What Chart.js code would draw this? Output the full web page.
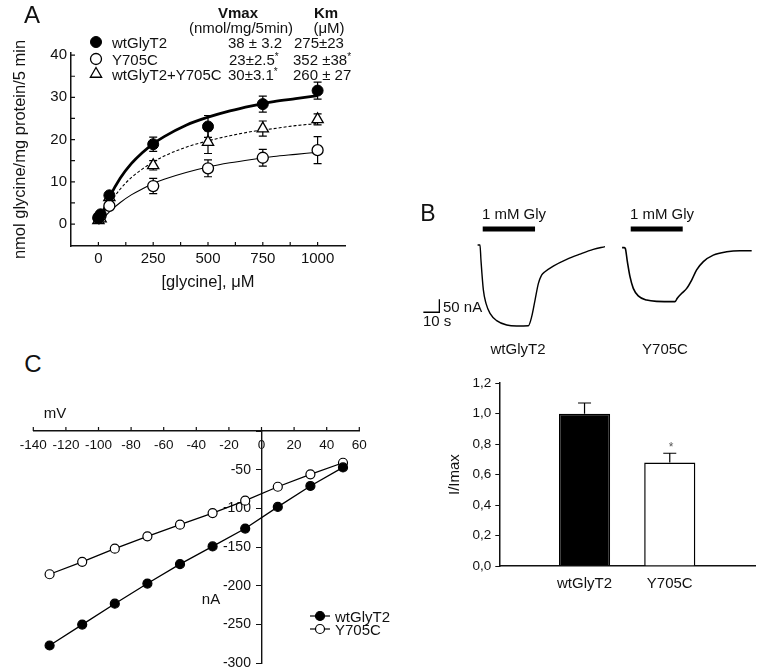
<!DOCTYPE html>
<html>
<head>
<meta charset="utf-8">
<script src="https://cdn.jsdelivr.net/npm/chart.js@4.4.0/dist/chart.umd.min.js"></script>
<style>
  body { margin: 0; background: #fff; }
  #fig { position: relative; width: 778px; height: 668px; overflow: hidden; font-family: "Liberation Sans", Arial, sans-serif; color: #111; }
  canvas { position: absolute; }
  .t { position: absolute; white-space: nowrap; transform: translate(-50%, -50%); font-size: 15px; line-height: 1; }
  .t.l { transform: translate(0, -50%); }
  .s { font-size: 10px; position: relative; top: -5px; }
</style>
</head>
<body>
<div id="fig">
  <canvas id="chartA" width="390" height="300" style="left:0px;top:0px"></canvas>
  <canvas id="chartB1" width="378" height="140" style="left:400px;top:200px"></canvas>
  <canvas id="chartB2" width="358" height="260" style="left:420px;top:370px"></canvas>
  <canvas id="chartC" width="390" height="300" style="left:0px;top:380px"></canvas>

  <!-- panel A text -->
  <div class="t" style="left:32px;top:15px;font-size:24px">A</div>
  <div class="t" style="left:238px;top:12px;font-weight:bold">Vmax</div>
  <div class="t" style="left:241px;top:27px">(nmol/mg/5min)</div>
  <div class="t" style="left:326px;top:12px;font-weight:bold">Km</div>
  <div class="t" style="left:329px;top:27px">(μM)</div>
  <div class="t l" style="left:112px;top:42px">wtGlyT2</div>
  <div class="t l" style="left:112px;top:59px">Y705C</div>
  <div class="t l" style="left:112px;top:74px">wtGlyT2+Y705C</div>
  <div class="t l" style="left:228px;top:42px">38 ± 3.2</div>
  <div class="t l" style="left:229px;top:59px">23±2.5<span class="s">*</span></div>
  <div class="t l" style="left:228px;top:74px">30±3.1<span class="s">*</span></div>
  <div class="t l" style="left:294px;top:42px">275±23</div>
  <div class="t l" style="left:293px;top:59px">352 ±38<span class="s">*</span></div>
  <div class="t l" style="left:293px;top:74px">260 ± 27</div>

  <!-- panel B text -->
  <div class="t" style="left:428px;top:213px;font-size:23px">B</div>
  <div class="t" style="left:514px;top:213px">1 mM Gly</div>
  <div class="t" style="left:662px;top:213px">1 mM Gly</div>
  <div class="t l" style="left:443px;top:306px">50 nA</div>
  <div class="t l" style="left:423px;top:320px">10 s</div>
  <div class="t" style="left:518px;top:348px">wtGlyT2</div>
  <div class="t" style="left:665px;top:348px">Y705C</div>
  <div class="t" style="left:671px;top:447px;font-size:12px;color:#555">*</div>

  <!-- panel C text -->
  <div class="t" style="left:33px;top:364px;font-size:24px">C</div>
  <div class="t" style="left:55px;top:412px">mV</div>
  <div class="t" style="left:211px;top:598px">nA</div>
  <div class="t l" style="left:335px;top:616px">wtGlyT2</div>
  <div class="t l" style="left:335px;top:629px">Y705C</div>
</div>

<script>
// ---- panel A: uptake kinetics ----
const glyConc = [0, 10, 50, 250, 500, 750, 1000];
const wtUptake = [1.4, 2.3, 6.8, 18.9, 23.1, 28.4, 31.6];
const wtErr = [0.4, 0.4, 0.7, 1.7, 2.6, 1.9, 2.0];
const mutUptake = [1.5, 2.0, 4.3, 9.0, 13.2, 15.7, 17.5];
const mutErr = [0.3, 0.3, 0.5, 1.8, 2.0, 2.0, 3.2];
const coUptake = [0.9, 1.3, 6.3, 13.9, 19.4, 22.6, 24.8];
const coErr = [0.3, 0.3, 0.6, 1.1, 2.7, 1.8, 1.3];

// fitted curves
const fitConc = [0, 25, 50, 100, 150, 200, 250, 300, 400, 500, 600, 700, 800, 900, 1000];
const wtFit = [0, 3.4, 6.3, 10.9, 14.3, 16.9, 19.0, 20.7, 23.4, 25.3, 26.8, 28.0, 29.0, 29.7, 30.4];
const mutFit = [0, 1.5, 2.9, 5.1, 6.9, 8.3, 9.6, 10.6, 12.2, 13.5, 14.5, 15.3, 16.0, 16.5, 17.0];
const coFit = [0, 2.6, 4.8, 8.3, 11.0, 13.0, 14.7, 16.1, 18.2, 19.7, 20.9, 21.9, 22.6, 23.3, 23.8];

const aXTicks = [0, 250, 500, 750, 1000];
const aXMinor = [125, 375, 625, 875];
const aYTicks = [0, 10, 20, 30, 40];
const aYMinor = [5, 15, 25, 35];

// ---- panel B: current traces (s, nA) ----
const wtTime = [-1.5, 0, 0.6, 2.1, 3.75, 6.25, 10.4, 16.7, 22.9, 30.2, 32.3, 34.4, 36.5, 38.5, 40.6, 45.8, 54.2, 62.5, 70.8, 78.1];
const wtTrace = [0, 0, -58, -173, -225, -263, -291, -308, -312, -311, -276, -212, -148, -116, -103, -81, -55, -35, -17, -6];
const mutTime = [-1.2, 0, 0.8, 2.1, 3.75, 5.8, 8.9, 14.2, 20.4, 31.9, 33.3, 36.1, 39.2, 42.3, 45.4, 49.6, 55.8, 64.2, 72.5, 79.8];
const mutTrace = [-10, -10, -13, -64, -122, -167, -196, -212, -217, -218, -205, -186, -167, -135, -96, -64, -39, -26, -22, -22];
const wtPulse = [1.7, 34.4];
const mutPulse = [4.2, 36.7];
const pulseLevel = 62;
const scaleBar = { time: 10, current: 50 };

// ---- panel B: normalized current ----
const barLabels = ['', 'wtGlyT2', 'Y705C', ''];
const barValues = [null, 1.0, 0.68, null];
const barErrors = [null, 0.07, 0.06, null];
const barYTicks = [0, 0.2, 0.4, 0.6, 0.8, 1.0, 1.2];

// ---- panel C: I-V ----
const voltages = [-130, -110, -90, -70, -50, -30, -10, 10, 30, 50];
const wtCurrent = [-277, -250, -223, -197, -172, -149, -126, -98, -71, -47];
const mutCurrent = [-185, -169, -152, -136, -121, -106, -90, -72, -56, -41];
const cXTicks = [-140, -120, -100, -80, -60, -40, -20, 0, 20, 40, 60];
const cYTicks = [-300, -250, -200, -150, -100, -50, 0];

Chart.defaults.font.family = '"Liberation Sans", Arial, sans-serif';
Chart.defaults.color = '#111';
Chart.defaults.animation = false;
Chart.defaults.plugins.legend.display = false;
Chart.defaults.plugins.tooltip.enabled = false;

const pts = (xs, ys) => xs.map((x, i) => ({ x: x, y: ys[i] }));
const setTicks = (vals) => (s) => { s.ticks = vals.map(v => ({ value: v })); };

// vertical error bars, drawn under the markers
const errorBars = {
  id: 'errorBars',
  beforeDatasetsDraw(chart) {
    const ctx = chart.ctx;
    chart.data.datasets.forEach((ds, i) => {
      if (!ds.errors) return;
      const meta = chart.getDatasetMeta(i);
      const ys = chart.scales[meta.yAxisID];
      ctx.save();
      ctx.strokeStyle = '#000';
      ctx.lineWidth = 1.2;
      meta.data.forEach((el, j) => {
        const err = ds.errors[j];
        if (err == null) return;
        const d = ds.data[j];
        const v = typeof d === 'object' ? d.y : d;
        const top = ys.getPixelForValue(v + err);
        const bot = ds.errorsUp ? el.y : ys.getPixelForValue(v - err);
        const c = ds.capWidth / 2;
        ctx.beginPath();
        ctx.moveTo(el.x, top); ctx.lineTo(el.x, bot);
        ctx.moveTo(el.x - c, top); ctx.lineTo(el.x + c, top);
        if (!ds.errorsUp) { ctx.moveTo(el.x - c, bot); ctx.lineTo(el.x + c, bot); }
        ctx.stroke();
      });
      ctx.restore();
    });
  }
};

// small tick marks drawn from an axis line
function tickMarks(marks) {
  return {
    id: 'tickMarks',
    beforeDatasetsDraw(chart) {
      const ctx = chart.ctx;
      ctx.save();
      ctx.strokeStyle = '#111';
      ctx.lineWidth = 1.2;
      ctx.beginPath();
      marks.forEach(m => {
        const s = chart.scales[m.scale];
        m.values.forEach(v => {
          const p = s.getPixelForValue(v);
          if (s.isHorizontal()) {
            const b = m.cross ? chart.scales[m.cross].getPixelForValue(m.at) : s.top;
            ctx.moveTo(p, b); ctx.lineTo(p, b + m.dir * m.len);
          } else {
            const b = s.right;
            ctx.moveTo(b, p); ctx.lineTo(b + m.dir * m.len, p);
          }
        });
      });
      ctx.stroke();
      ctx.restore();
    }
  };
}

// legend symbols placed beside the html legend text
function legendMarks(items) {
  return {
    id: 'legendMarks',
    afterDraw(chart) {
      const ctx = chart.ctx;
      items.forEach(it => {
        ctx.save();
        ctx.strokeStyle = '#000';
        ctx.fillStyle = it.fill;
        ctx.lineWidth = it.bw;
        if (it.line) {
          ctx.beginPath();
          ctx.moveTo(it.x - it.line, it.y); ctx.lineTo(it.x + it.line, it.y);
          ctx.stroke();
        }
        Chart.helpers.drawPoint(ctx, { pointStyle: it.style, radius: it.r, rotation: 0, borderWidth: it.bw }, it.x, it.y);
        ctx.restore();
      });
    }
  };
}

// ---------- A ----------
new Chart(document.getElementById('chartA'), {
  type: 'scatter',
  data: {
    datasets: [
      { data: pts(glyConc, wtUptake), errors: wtErr, capWidth: 8, pointStyle: 'circle', pointRadius: 5.5,
        backgroundColor: '#000', borderColor: '#000', borderWidth: 1, order: 0 },
      { data: pts(glyConc, mutUptake), errors: mutErr, capWidth: 8, pointStyle: 'circle', pointRadius: 5.5,
        backgroundColor: '#fff', borderColor: '#000', borderWidth: 1.3, order: 0 },
      { data: pts(glyConc, coUptake), errors: coErr, capWidth: 8, pointStyle: 'triangle', pointRadius: 6.5,
        backgroundColor: '#fff', borderColor: '#000', borderWidth: 1.3, order: 0 },
      { type: 'line', data: pts(fitConc, wtFit), borderColor: '#000', borderWidth: 2.8,
        pointRadius: 0, cubicInterpolationMode: 'monotone', order: 1 },
      { type: 'line', data: pts(fitConc, mutFit), borderColor: '#000', borderWidth: 1.1,
        pointRadius: 0, cubicInterpolationMode: 'monotone', order: 1 },
      { type: 'line', data: pts(fitConc, coFit), borderColor: '#000', borderWidth: 1.1, borderDash: [3, 2],
        pointRadius: 0, cubicInterpolationMode: 'monotone', order: 1 }
    ]
  },
  options: {
    responsive: false,
    layout: { padding: { left: 0, top: 53, right: 45, bottom: 0 } },
    scales: {
      x: {
        type: 'linear', min: -125, max: 1125,
        afterBuildTicks: setTicks(aXTicks),
        afterFit: (s) => { s.height = 54; },
        grid: { drawOnChartArea: false, drawTicks: false },
        border: { color: '#111', width: 1.5 },
        ticks: { font: { size: 15 }, padding: 4, maxRotation: 0, autoSkip: false, callback: (v) => String(v) },
        title: { display: true, text: '[glycine], μM', font: { size: 16.5 }, padding: { top: 0, bottom: 8 } }
      },
      y: {
        min: -5.2, max: 40.5,
        afterBuildTicks: setTicks(aYTicks),
        afterFit: (s) => { s.width = 71; },
        grid: { drawOnChartArea: false, drawTicks: false },
        border: { color: '#111', width: 1.5 },
        ticks: { font: { size: 15 }, padding: 4, callback: (v) => String(v) },
        title: { display: true, text: 'nmol glycine/mg protein/5 min', font: { size: 16.5 }, padding: { top: 11, bottom: 0 } }
      }
    }
  },
  plugins: [
    errorBars,
    tickMarks([
      { scale: 'x', values: aXTicks.concat(aXMinor), len: 4, dir: -1 },
      { scale: 'y', values: aYTicks.concat(aYMinor), len: 4, dir: 1 }
    ]),
    legendMarks([
      { x: 96, y: 42, style: 'circle', r: 5.5, fill: '#000', bw: 1 },
      { x: 96, y: 59, style: 'circle', r: 5.5, fill: '#fff', bw: 1.3 },
      { x: 96, y: 74, style: 'triangle', r: 6.5, fill: '#fff', bw: 1.3 }
    ])
  ]
});

// ---------- B: traces ----------
const scaleBarPlugin = {
  id: 'scaleBar',
  afterDatasetsDraw(chart) {
    const xs = chart.scales.x1, ys = chart.scales.y, ctx = chart.ctx;
    const t0 = -35.4, i0 = -259;
    ctx.save();
    ctx.strokeStyle = '#000';
    ctx.lineWidth = 1.3;
    ctx.beginPath();
    ctx.moveTo(xs.getPixelForValue(t0), ys.getPixelForValue(i0));
    ctx.lineTo(xs.getPixelForValue(t0 + scaleBar.time), ys.getPixelForValue(i0));
    ctx.lineTo(xs.getPixelForValue(t0 + scaleBar.time), ys.getPixelForValue(i0 + scaleBar.current));
    ctx.stroke();
    ctx.restore();
  }
};

new Chart(document.getElementById('chartB1'), {
  type: 'line',
  data: {
    datasets: [
      { data: pts(wtTime, wtTrace), xAxisID: 'x1', borderColor: '#000', borderWidth: 1.4, pointRadius: 0, cubicInterpolationMode: 'monotone' },
      { data: pts(mutTime, mutTrace), xAxisID: 'x2', borderColor: '#000', borderWidth: 1.6, pointRadius: 0, cubicInterpolationMode: 'monotone' },
      { data: wtPulse.map(t => ({ x: t, y: pulseLevel })), xAxisID: 'x1', borderColor: '#000', borderWidth: 5, pointRadius: 0, borderCapStyle: 'butt' },
      { data: mutPulse.map(t => ({ x: t, y: pulseLevel })), xAxisID: 'x2', borderColor: '#000', borderWidth: 5, pointRadius: 0, borderCapStyle: 'butt' }
    ]
  },
  options: {
    responsive: false,
    layout: { padding: 0 },
    scales: {
      x1: { type: 'linear', display: false, min: -50, max: 186.25 },
      x2: { type: 'linear', display: false, min: -140, max: 96.25 },
      y: { display: false, min: -365.75, max: 173.25 }
    }
  },
  plugins: [scaleBarPlugin]
});

// ---------- B: bars ----------
new Chart(document.getElementById('chartB2'), {
  type: 'bar',
  data: {
    labels: barLabels,
    datasets: [{
      data: barValues, errors: barErrors, errorsUp: true, capWidth: 13,
      backgroundColor: ['#000', '#000', '#fff', '#000'], borderColor: '#000', borderWidth: 1.5,
      barPercentage: 0.75, categoryPercentage: 0.8
    }]
  },
  options: {
    responsive: false,
    layout: { padding: { left: 20, top: 13.2, right: 23, bottom: 34 } },
    scales: {
      x: {
        offset: false,
        afterFit: (s) => { s.height = 30; },
        grid: { drawOnChartArea: false, drawTicks: false },
        border: { color: '#111', width: 1.5 },
        ticks: { font: { size: 15 }, padding: 9, maxRotation: 0, autoSkip: false }
      },
      y: {
        min: 0, max: 1.2,
        afterBuildTicks: setTicks(barYTicks),
        afterFit: (s) => { s.width = 59.3; },
        grid: { drawOnChartArea: false, drawTicks: true, tickLength: 4, color: '#111' },
        border: { color: '#111', width: 1.5 },
        ticks: { font: { size: 13.5 }, padding: 4, callback: (v) => v.toFixed(1).replace('.', ',') },
        title: { display: true, text: 'I/Imax', font: { size: 15 }, padding: { top: 6, bottom: 0 } }
      }
    }
  },
  plugins: [errorBars]
});

// ---------- C ----------
new Chart(document.getElementById('chartC'), {
  type: 'line',
  data: {
    datasets: [
      { data: pts(voltages, wtCurrent), borderColor: '#000', borderWidth: 1.3, pointRadius: 4.5,
        pointBackgroundColor: '#000', pointBorderColor: '#000', pointBorderWidth: 1.2 },
      { data: pts(voltages, mutCurrent), borderColor: '#000', borderWidth: 1.3, pointRadius: 4.5,
        pointBackgroundColor: '#fff', pointBorderColor: '#000', pointBorderWidth: 1.2 }
    ]
  },
  options: {
    responsive: false,
    layout: { padding: { left: 33.3, right: 30.7, top: 51, bottom: 16.7 } },
    scales: {
      x: {
        type: 'linear', min: -140, max: 60, position: { y: 0 },
        afterBuildTicks: setTicks(cXTicks),
        grid: { drawOnChartArea: false, drawTicks: false },
        border: { color: '#111', width: 1.4 },
        ticks: { font: { size: 13.5 }, padding: 6, maxRotation: 0, minRotation: 0, autoSkip: false, callback: (v) => String(v) }
      },
      y: {
        min: -300, max: 0, position: { x: 0 },
        afterBuildTicks: setTicks(cYTicks),
        grid: { drawOnChartArea: false, drawTicks: true, tickLength: 5, color: '#111' },
        border: { color: '#111', width: 1.4 },
        ticks: { font: { size: 14 }, autoSkip: false, callback: (v) => v === 0 ? '' : v + '\u2007\u2009' }
      }
    }
  },
  plugins: [
    tickMarks([{ scale: 'x', values: cXTicks, len: 4, dir: -1, cross: 'y', at: 0 }]),
    legendMarks([
      { x: 320, y: 236, style: 'circle', r: 4.5, fill: '#000', bw: 1.2, line: 10 },
      { x: 320, y: 249, style: 'circle', r: 4.5, fill: '#fff', bw: 1.2, line: 10 }
    ])
  ]
});
</script>
</body>
</html>
